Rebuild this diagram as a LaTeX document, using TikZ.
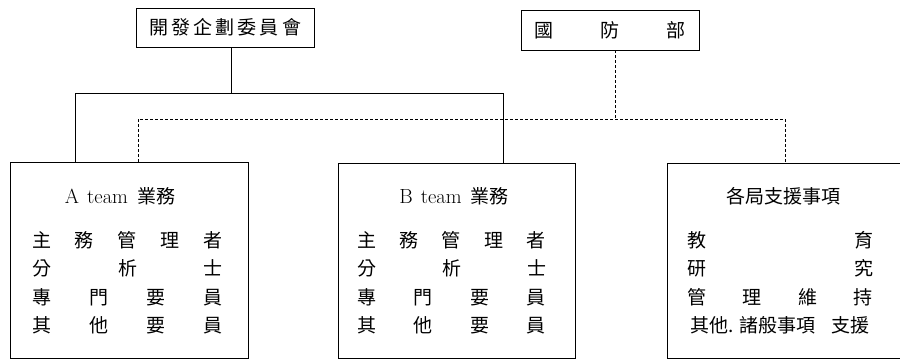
\documentclass[tikz,border=0pt]{standalone}
\usepackage{fontspec}
\newfontfamily\cjk{Noto Sans CJK TC}
\newcommand{\rowbox}[2]{\makebox[#1pt][s]{#2}}
\newcommand{\gp}{\hfil}
\newcommand{\cjkt}[1]{{\cjk\fontsize{19}{22}\selectfont #1}}
\begin{document}
\begin{tikzpicture}[x=1pt,y=-1pt,
  frame/.style={draw, line width=0.9pt, inner sep=0pt},
  conn/.style={line width=0.9pt},
  dconn/.style={line width=0.8pt, dash pattern=on 3pt off 2pt},
  cj/.style={font=\cjk\fontsize{19}{22}\selectfont, inner sep=0pt, anchor=center},
  ttl/.style={font=\fontsize{20.5}{24}\selectfont, inner sep=0pt, anchor=center}]
\useasboundingbox (0,0) rectangle (900,361);

% top boxes
\node[frame, minimum width=178pt, minimum height=39pt, cj] (dev) at (225,27.5)
  {\rowbox{152}{開\gp{}發\gp{}企\gp{}劃\gp{}委\gp{}員\gp{}會}};
\node[frame, minimum width=178pt, minimum height=40pt, cj] (mod) at (610,30)
  {\rowbox{151}{國\gp{}防\gp{}部}};

% lower boxes
\node[frame, minimum width=238pt, minimum height=196pt] (A) at (129,260) {};
\node[frame, minimum width=237pt, minimum height=195pt] (B) at (456.5,260.5) {};
\node[frame, minimum width=238pt, minimum height=195pt] (C) at (786,260.5) {};

% titles
\node[ttl] (tA) at (120,196) {A\hspace{8pt}team\hspace{9pt}\cjkt{業務}};
\node[ttl] (tB) at (454,196) {B\hspace{8pt}team\hspace{9pt}\cjkt{業務}};
\node[cj] (tC) at (783,196) {各局支援事項};

% rows A
\node[cj] (a1) at (127.5,240) {\rowbox{191}{主\gp{}務\gp{}管\gp{}理\gp{}者}};
\node[cj] (a2) at (127.5,268.5) {\rowbox{191}{分\gp{}析\gp{}士}};
\node[cj] (a3) at (127.5,297) {\rowbox{191}{專\gp{}門\gp{}要\gp{}員}};
\node[cj] (a4) at (127.5,325.5) {\rowbox{191}{其\gp{}他\gp{}要\gp{}員}};
% rows B
\node[cj] (b1) at (451.5,240) {\rowbox{189}{主\gp{}務\gp{}管\gp{}理\gp{}者}};
\node[cj] (b2) at (451.5,268.5) {\rowbox{189}{分\gp{}析\gp{}士}};
\node[cj] (b3) at (451.5,297) {\rowbox{189}{專\gp{}門\gp{}要\gp{}員}};
\node[cj] (b4) at (451.5,325.5) {\rowbox{189}{其\gp{}他\gp{}要\gp{}員}};
% rows C
\node[cj] (c1) at (780,240) {\rowbox{186}{教\gp{}育}};
\node[cj] (c2) at (780,268.5) {\rowbox{186}{研\gp{}究}};
\node[cj] (c3) at (780,297) {\rowbox{186}{管\gp{}理\gp{}維\gp{}持}};
\node[cj] (c4) at (780,325.5) {\rowbox{180}{其他.\hspace{6pt}諸般事項\gp{} 支援}};

% junction coordinates
\coordinate (devdrop) at (231,93);
\coordinate (busL) at (75,93);
\coordinate (busR) at (503,93);
\coordinate (moddrop) at (615,119);
\coordinate (dL) at (138,119);
\coordinate (dR) at (785,119);

% solid connectors
\draw[conn] (dev.south -| devdrop) -- (devdrop);
\draw[conn] (A.north -| busL) |- (busR) -- (B.north -| busR);

% dashed connectors
\draw[dconn] (mod.south -| moddrop) -- (moddrop);
\draw[dconn] (A.north -| dL) |- (dR) -- (C.north -| dR);
\end{tikzpicture}
\end{document}
